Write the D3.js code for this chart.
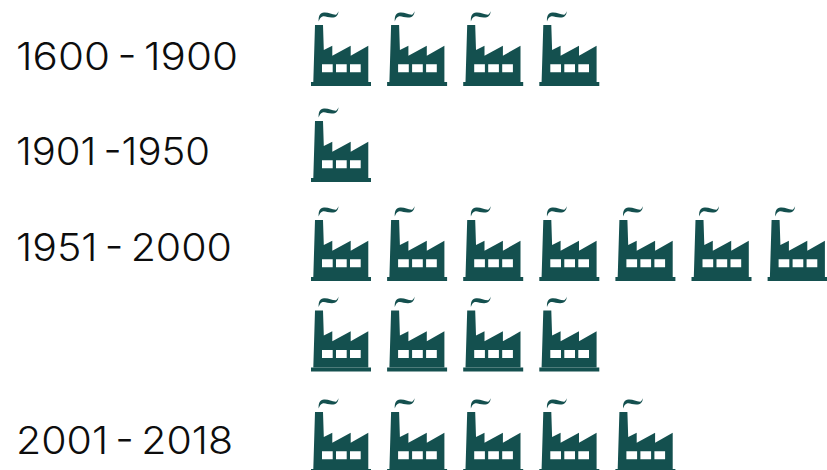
<!DOCTYPE html>
<html><head><meta charset="utf-8">
<script src="https://cdn.jsdelivr.net/npm/d3@7/dist/d3.min.js"></script>
<style>html,body{margin:0;padding:0;background:#fff;overflow:hidden}svg{display:block}</style>
</head><body><svg id="c" width="827" height="470"></svg>
<script>
const categories = ["1600 - 1900", "1901 -1950", "1951 - 2000", "2001 - 2018"];
const factoryCounts = [4, 1, 11, 5];
const perRow = 7;

const svg = d3.select("#c");
const iconColor = "#14504f";

const rowBase = d3.scaleOrdinal().domain([0,1,2,3,4]).range([86,182,281,371.6,473]);
const colX = d3.scaleLinear().domain([0,1]).range([311,387.1]);
const catRowIndex = [0,1,2,4];
const labelBase = d3.scaleOrdinal().domain(categories).range([70,165,261,453.5]);
const labelLength = d3.scaleOrdinal().domain(categories).range([222,194,216,217]);

const factory = "M2.3,82 L4,25 L12,25 L12.8,50 L21.3,45.7 L21.3,55.7 L39.7,45.7 L39.7,55.7 L57.3,45.7 L57.3,82 Z" +
  " M11,64.3 V72.3 H21.7 V64.3 Z M25,64.3 V72.3 H35.7 V64.3 Z M39,64.3 V72.3 H49.7 V64.3 Z";
const base = "M0,82 H60 V86 H0 Z";
const smoke = "M7.7,21.5 C7.3,16 9,13 13,12.6 C18,12.2 21,15.2 26,14.6 C23.5,15.6 27,13.8 27.5,11 C27.3,15.5 25,17.5 21,17.6 C17,17.7 14,15.6 11.5,16.5 C9.5,17.2 8.6,19 7.7,21.5 Z";

const items = [];
factoryCounts.forEach((n,i) => {
  d3.range(n).forEach(k => items.push({cat:categories[i], row: catRowIndex[i] + Math.floor(k/perRow), col:k%perRow}));
});

const g = svg.selectAll("g.f").data(items).join("g").attr("class","f")
  .attr("transform", d => `translate(${colX(d.col)},${rowBase(d.row)-86})`);
g.append("path").attr("d",factory).attr("fill",iconColor).attr("fill-rule","evenodd");
g.append("path").attr("d",base).attr("fill",iconColor);
g.append("path").attr("d",smoke).attr("fill",iconColor);

svg.selectAll("text.l").data(categories).join("text").attr("class","l")
  .attr("x",16).attr("y",d=>labelBase(d))
  .attr("font-family","Inter, 'Open Sans', sans-serif").attr("font-weight",300).attr("font-size",38.5)
  .style("word-spacing","-4px")
  .attr("textLength",d=>labelLength(d)).attr("lengthAdjust","spacingAndGlyphs")
  .attr("fill","#0d0d0d").text(d=>d);
</script></body></html>
